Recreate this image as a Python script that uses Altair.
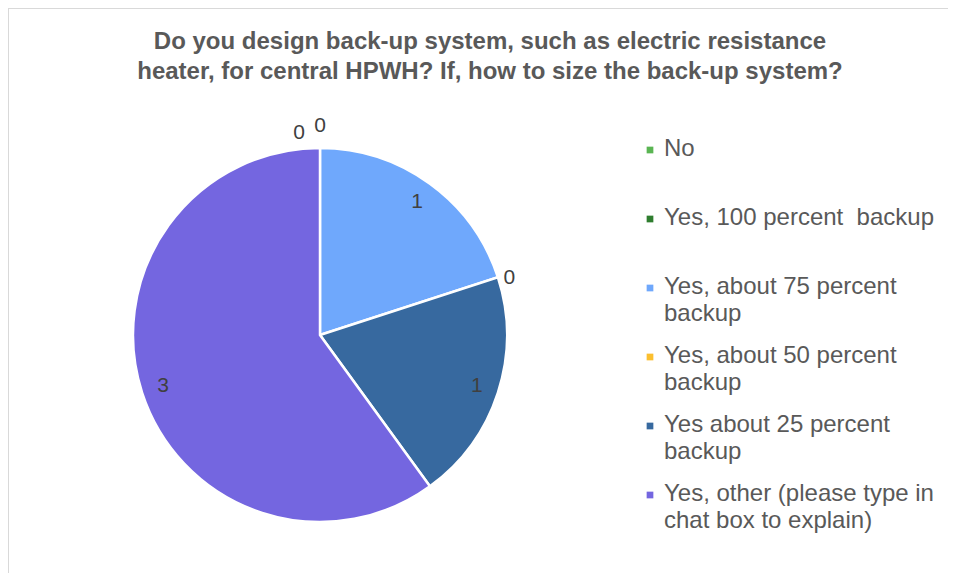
import altair as alt
import pandas as pd
import math

categories = [
    "No",
    "Yes, 100 percent  backup",
    "Yes, about 75 percent backup",
    "Yes, about 50 percent backup",
    "Yes about 25 percent backup",
    "Yes, other (please type in chat box to explain)",
]
legend_labels = [
    "No",
    "Yes, 100 percent\u00a0 backup",
    "Yes, about 75 percent\nbackup",
    "Yes, about 50 percent\nbackup",
    "Yes about 25 percent\nbackup",
    "Yes, other (please type in\nchat box to explain)",
]
counts = [0, 0, 1, 0, 1, 3]
colors = ["#5ab552", "#2e7d2e", "#6fa8fc", "#fbbf2f", "#37699f", "#7466e0"]
title_lines = [
    "Do you design back-up system, such as electric resistance",
    "heater, for central HPWH? If, how to size the back-up system?",
]

df = pd.DataFrame({
    "cat": categories,
    "legend": legend_labels,
    "count": counts,
    "idx": list(range(len(categories))),
})

W, H = 940, 565
CX, CY, R = 312, 327, 187

color = alt.Color("cat:N", scale=alt.Scale(domain=categories, range=colors), legend=None)

base = alt.Chart(df).transform_window(
    cum="sum(count)", frame=[None, 0], sort=[alt.SortField("idx")]
).transform_joinaggregate(
    total="sum(count)"
).transform_calculate(
    f0="(datum.cum - datum.count) / datum.total",
    f1="datum.cum / datum.total",
    frac="(datum.cum - datum.count / 2) / datum.total",
)
tscale = alt.Scale(domain=[0, 1], range=[0, 2 * math.pi])

pie = base.transform_filter("datum.count > 0").mark_arc(
    outerRadius=R, stroke="white", strokeWidth=2.5
).encode(
    theta=alt.Theta("f0:Q", scale=tscale), theta2="f1:Q", color=color,
    x=alt.value(CX), y=alt.value(CY),
)

theta_lab = alt.Theta("frac:Q", scale=tscale)
lab_font = dict(fontSize=21, color="#404040", font="Liberation Sans")

lab_in = base.transform_filter("datum.count > 0").mark_text(
    radius=165, **lab_font
).encode(theta=theta_lab, text="count:Q", x=alt.value(CX), y=alt.value(CY))

lab_top = base.transform_filter("datum.count == 0 && datum.idx == 1").mark_text(
    radius=209, **lab_font
).encode(theta=theta_lab, text="count:Q", x=alt.value(CX), y=alt.value(CY))

lab_zero = base.transform_filter("datum.count == 0 && datum.idx > 1").mark_text(
    radius=199, dy=4, **lab_font
).encode(theta=theta_lab, text="count:Q", x=alt.value(CX), y=alt.value(CY))

lab_no = base.transform_filter("datum.idx == 0").mark_text(
    radius=203, dx=-21, dy=1, **lab_font
).encode(theta=theta_lab, text="count:Q", x=alt.value(CX), y=alt.value(CY))

ypos = alt.Y("cat:N", scale=alt.Scale(domain=categories, type="point", range=[142, 487], padding=0), axis=None)

leg_sym = alt.Chart(df).mark_square(size=45, opacity=1).encode(
    x=alt.value(642), y=ypos, color=color,
)
leg_txt = alt.Chart(df).mark_text(
    align="left", baseline="top", dy=-13, fontSize=24, lineHeight=27,
    color="#595959", font="Liberation Sans", lineBreak="\n",
).encode(x=alt.value(656), y=ypos, text="legend:N")

title = alt.Chart(pd.DataFrame({"t": [0]})).mark_text(
    text=title_lines, align="center", baseline="top", fontSize=24, fontWeight="bold",
    lineHeight=30, color="#595959", font="Liberation Sans",
).encode(x=alt.value(482), y=alt.value(22))

border_top = alt.Chart(pd.DataFrame({"t": [0]})).mark_rule(color="#d9d9d9", strokeWidth=2).encode(
    x=alt.value(0), x2=alt.value(W), y=alt.value(0)
)
border_left = alt.Chart(pd.DataFrame({"t": [0]})).mark_rule(color="#d9d9d9", strokeWidth=2).encode(
    x=alt.value(0), y=alt.value(0), y2=alt.value(H)
)

chart = alt.layer(
    border_top, border_left, pie, lab_in, lab_top, lab_zero, lab_no, leg_sym, leg_txt, title
).properties(
    width=W, height=H, autosize=alt.AutoSizeParams(type="none"), padding=0
).configure_view(stroke=None).configure(background="white")

chart.save("out.html", embed_options={"renderer": "svg", "actions": False})
